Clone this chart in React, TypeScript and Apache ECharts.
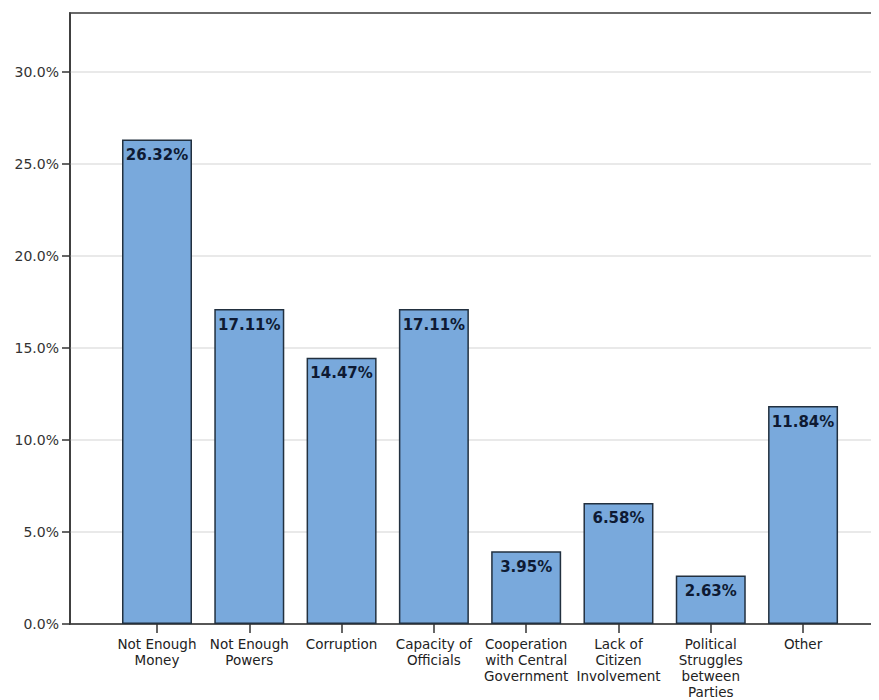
import React, { useEffect, useRef } from "react";
import * as echarts from "echarts";

const categories = [
  "Not Enough\nMoney",
  "Not Enough\nPowers",
  "Corruption",
  "Capacity of\nOfficials",
  "Cooperation\nwith Central\nGovernment",
  "Lack of\nCitizen\nInvolvement",
  "Political\nStruggles\nbetween\nParties",
  "Other",
];
const values = [26.32, 17.11, 14.47, 17.11, 3.95, 6.58, 2.63, 11.84];
const yTicks = [0, 5, 10, 15, 20, 25, 30];
const categoryIndex = categories.map((_, i) => i);

export default function App() {
  const ref = useRef<HTMLDivElement>(null);
  useEffect(() => {
    if (!ref.current) return;
    const chart = echarts.init(ref.current, undefined, { renderer: "svg" });
    const font = "'DejaVu Sans', Verdana, sans-serif";
    chart.setOption({
      animation: false,
      backgroundColor: "#ffffff",
      grid: {
        left: 62,
        top: 5,
        width: 820,
        bottom: 76,
        show: true,
        borderColor: "#6a6a6a",
        borderWidth: 2,
        backgroundColor: "transparent",
        containLabel: false,
      },
      xAxis: {
        type: "value",
        min: -0.9426,
        max: 7.942,
        splitLine: { show: false },
        axisLine: { show: true, onZero: false, lineStyle: { color: "#333", width: 1.5 } },
        axisTick: {
          show: true,
          customValues: categoryIndex,
          length: 9,
          lineStyle: { color: "#333", width: 1.5 },
        },
        axisLabel: {
          show: true,
          customValues: categoryIndex,
          formatter: (v: number) => categories[Math.round(v)] ?? "",
          margin: 12,
          fontFamily: font,
          fontSize: 13.5,
          lineHeight: 16,
          color: "#222",
          align: "center",
          verticalAlign: "top",
        },
      },
      yAxis: {
        type: "value",
        min: 0,
        max: 33.2,
        interval: 5,
        axisLine: { show: true, onZero: false, lineStyle: { color: "#333", width: 1.5 } },
        axisTick: {
          show: true,
          customValues: yTicks,
          length: 8,
          lineStyle: { color: "#333", width: 1.5 },
        },
        axisLabel: {
          customValues: yTicks,
          formatter: (v: number) => (v % 5 === 0 ? v.toFixed(1) + "%" : ""),
          margin: 11,
          fontFamily: font,
          fontSize: 14,
          color: "#333",
        },
        splitLine: { show: true, lineStyle: { color: "#e2e2e2", width: 1.5 } },
      },
      series: [
        {
          type: "bar",
          data: values.map((v, i) => [i, v]),
          barWidth: 70,
          itemStyle: { color: "#79a9dc", borderColor: "#22303f", borderWidth: 1.5 },
          label: {
            show: true,
            position: "insideTop",
            distance: 8,
            formatter: (p: any) => Number(p.value[1]).toFixed(2) + "%",
            fontFamily: font,
            fontWeight: "bold",
            fontSize: 15,
            color: "#0e1a33",
          },
        },
      ],
    });
    return () => chart.dispose();
  }, []);
  return (
    <div style={{ width: 871, height: 692, overflow: "hidden" }}>
      <div ref={ref} style={{ width: 900, height: 692 }} />
    </div>
  );
}
